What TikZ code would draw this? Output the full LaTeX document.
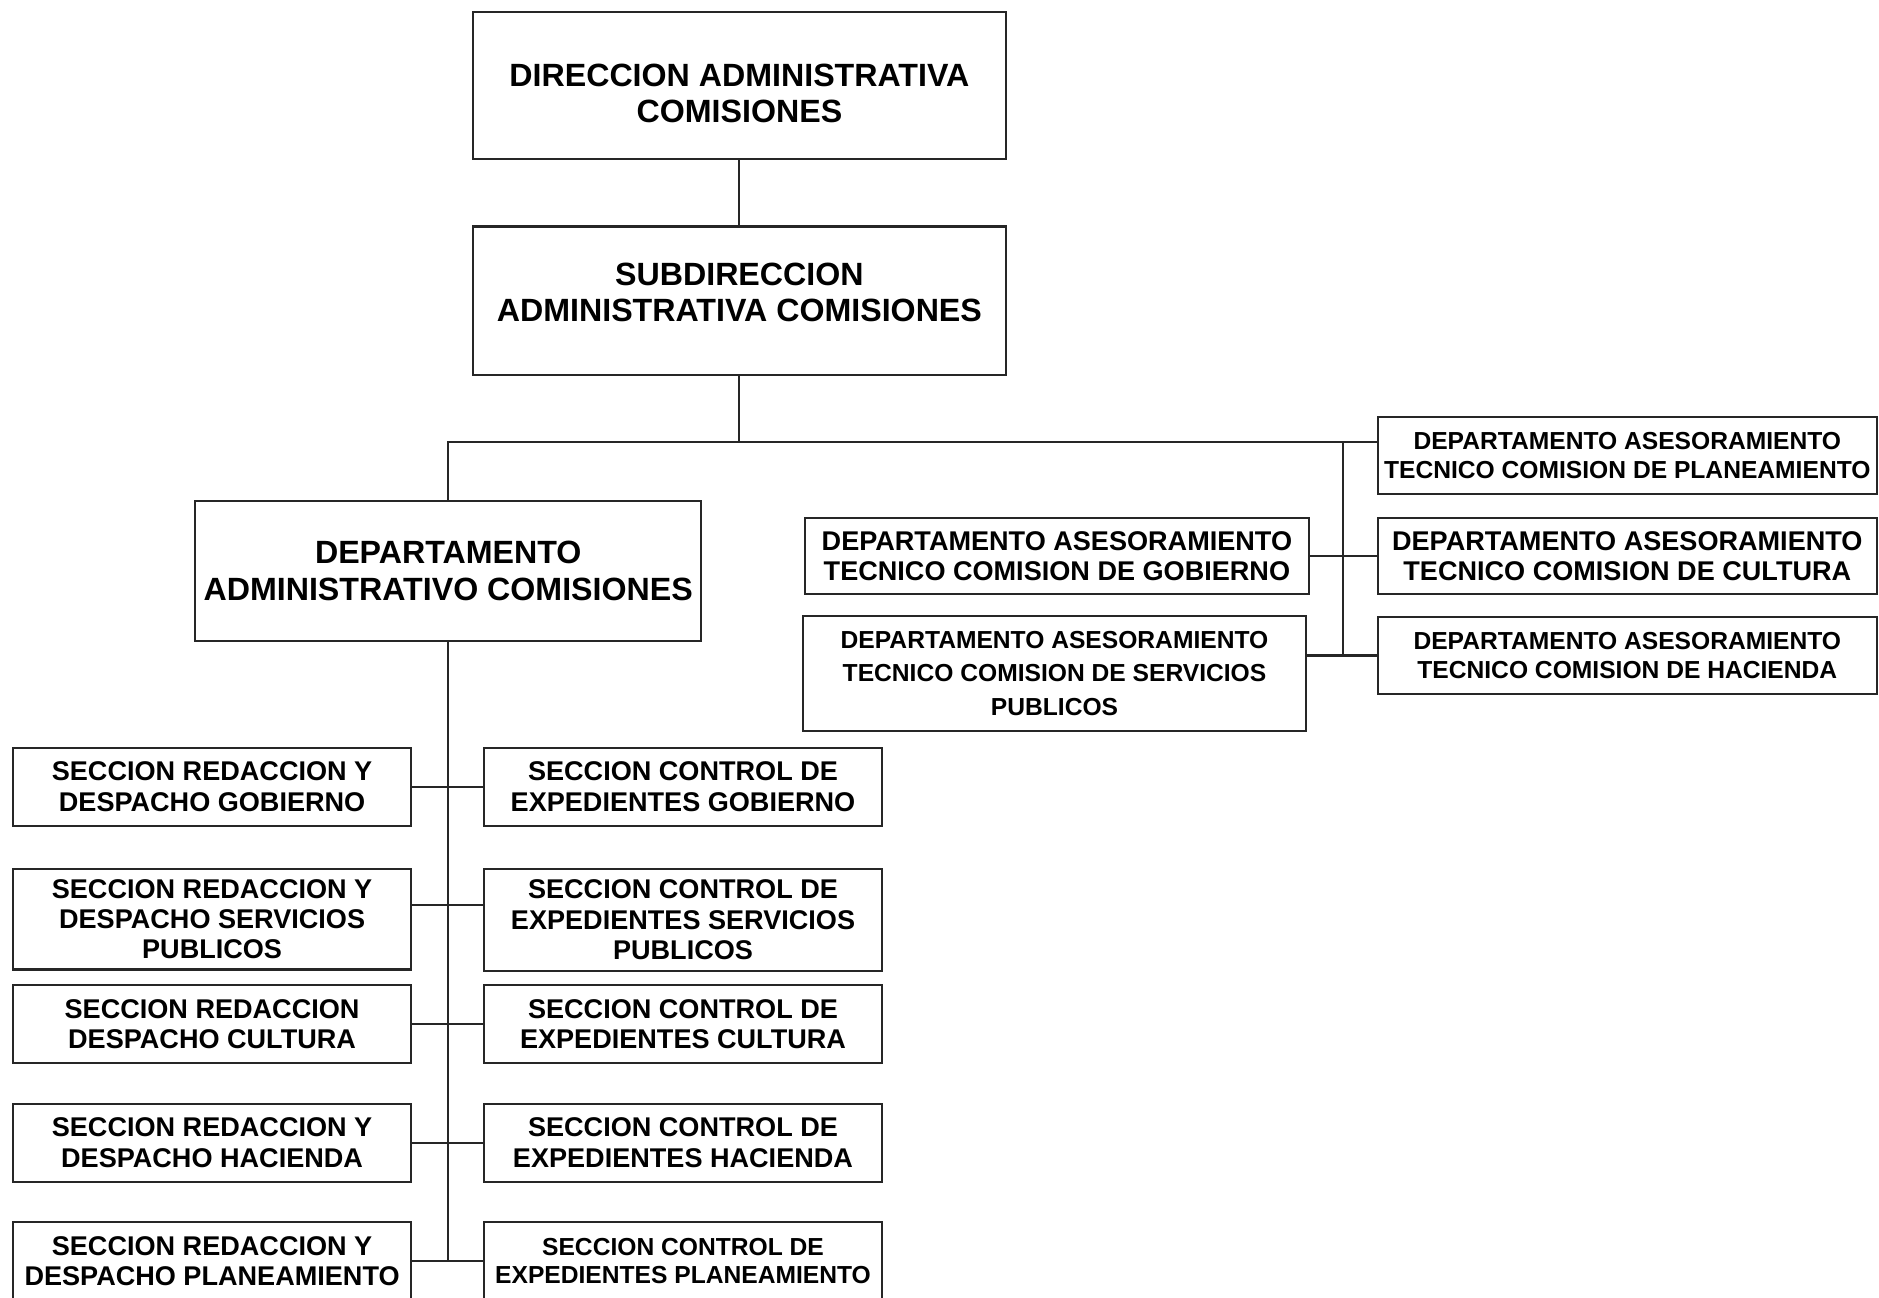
\documentclass[tikz,border=0pt]{standalone}
\usepackage{fontspec}
\setmainfont{Liberation Sans}
\usetikzlibrary{positioning}

\tikzset{
  box/.style={draw=black!85, line width=0.6pt, align=center, inner sep=1pt,
    font=\bfseries\fontsize{7.7}{8.6}\selectfont},
  bigbox/.style={box, minimum width=5.32cm, font=\bfseries\fontsize{9.15}{10.3}\selectfont},
  asesbox/.style={box, minimum width=4.99cm, minimum height=0.767cm},
  secbox/.style={box, minimum width=3.98cm, minimum height=0.779cm},
  small/.style={font=\bfseries\fontsize{7}{8.1}\selectfont},
  link/.style={draw=black!85, line width=0.6pt}
}

\begin{document}
\begin{tikzpicture}[x=0.01cm, y=-0.01cm]
        \useasboundingbox (0,0) rectangle (1879,1298);

        % top of the chart
        \node[bigbox, minimum height=1.474cm] (dir) at (739.4,85.7) {\rule{0pt}{11pt}DIRECCION ADMINISTRATIVA\\COMISIONES};
        \node[bigbox, minimum height=1.486cm] (subdir) at (739.4,300.8) {SUBDIRECCION\\ADMINISTRATIVA COMISIONES\rule[-5pt]{0pt}{5pt}};
        \node[bigbox, minimum width=5.057cm, minimum height=1.402cm] (deptadm) at (448.2,571) {DEPARTAMENTO\\ADMINISTRATIVO COMISIONES};

        % departamentos de asesoramiento
        \node[asesbox, small] (plan) at (1627.3,455.4) {DEPARTAMENTO ASESORAMIENTO\\TECNICO COMISION DE PLANEAMIENTO};
        \node[asesbox] (cult) at (1627.3,556) {DEPARTAMENTO ASESORAMIENTO\\TECNICO COMISION DE CULTURA};
        \node[asesbox, small] (hac) at (1627.3,655.5) {DEPARTAMENTO ASESORAMIENTO\\TECNICO COMISION DE HACIENDA};
        \node[asesbox, minimum width=5.033cm] (gobdep) at (1056.9,556) {DEPARTAMENTO ASESORAMIENTO\\TECNICO COMISION DE GOBIERNO};
        \node[asesbox, minimum width=5.033cm, minimum height=1.15cm, font=\bfseries\fontsize{7}{9.5}\selectfont] (spdep) at (1054.5,673.5) {DEPARTAMENTO ASESORAMIENTO\\TECNICO COMISION DE SERVICIOS\\PUBLICOS};

        % secciones
        \node[secbox] (redgob) at (212.1,786.7) {SECCION REDACCION Y\\DESPACHO GOBIERNO};
        \node[secbox] (ctrlgob) at (683,786.7) {SECCION CONTROL DE\\EXPEDIENTES GOBIERNO};
        \node[secbox, minimum height=1.007cm] (redsp) at (212.1,919.1) {SECCION REDACCION Y\\DESPACHO SERVICIOS\\PUBLICOS};
        \node[secbox, minimum height=1.02cm] (ctrlsp) at (683,919.8) {SECCION CONTROL DE\\EXPEDIENTES SERVICIOS\\PUBLICOS};
        \node[secbox] (redcult) at (212.1,1024) {SECCION REDACCION\\DESPACHO CULTURA};
        \node[secbox] (ctrlcult) at (683,1024) {SECCION CONTROL DE\\EXPEDIENTES CULTURA};
        \node[secbox] (redhac) at (212.1,1142.6) {SECCION REDACCION Y\\DESPACHO HACIENDA};
        \node[secbox] (ctrlhac) at (683,1142.6) {SECCION CONTROL DE\\EXPEDIENTES HACIENDA};
        \node[secbox] (redplan) at (212.1,1261) {SECCION REDACCION Y\\DESPACHO PLANEAMIENTO};
        \node[secbox, small] (ctrlplan) at (683,1261) {SECCION CONTROL DE\\EXPEDIENTES PLANEAMIENTO};

        \coordinate (trunk) at (739.4,442.2);
        \coordinate (busr) at (1343.3,442.2);
        \coordinate (j2) at (448.2,904.7);

        \draw[link] (dir) -- (subdir);
        \draw[link] (subdir) -- (trunk);
        \draw[link] (deptadm.north) |- (trunk) -- (trunk -| plan.west);
        \draw[link] (busr) -- (busr |- hac.west);
        \draw[link] (gobdep.east) -- (cult.west);
        \draw[link] (spdep.east |- hac.west) -- (hac.west);

        \draw[link] (deptadm.south) -- (deptadm.south |- redplan.east);
        \draw[link] (redgob.east) -- (ctrlgob.west);
        \draw[link] (j2 -| redsp.east) -- (j2 -| ctrlsp.west);
        \draw[link] (redcult.east) -- (ctrlcult.west);
        \draw[link] (redhac.east) -- (ctrlhac.west);
        \draw[link] (redplan.east) -- (ctrlplan.west);
    \end{tikzpicture}
\end{document}
